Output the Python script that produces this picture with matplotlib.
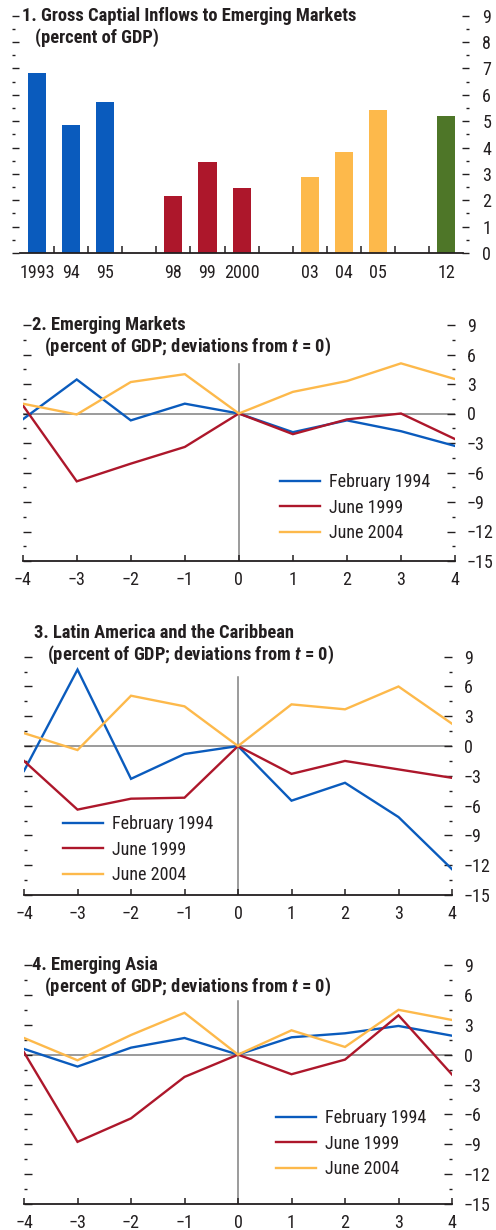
import matplotlib
matplotlib.use('Agg')
import matplotlib.pyplot as plt
from matplotlib.lines import Line2D
from matplotlib.ticker import MultipleLocator, FixedLocator

plt.rcParams['font.family'] = ['Roboto Condensed', 'DejaVu Sans']
plt.rcParams['mathtext.fontset'] = 'custom'
plt.rcParams['mathtext.it'] = 'Roboto Condensed:italic:bold'
plt.rcParams['axes.unicode_minus'] = True

W, H = 496, 1230

BLUE = '#0a5bbd'
RED = '#ad172b'
YELLOW = '#fdb94b'
GREEN = '#4e7628'
GRAY = '#808080'
INK = '#231f20'

# panel 1: gross capital inflows, grouped by episode
bar_groups = [['1993', '94', '95'], ['98', '99', '2000'], ['03', '04', '05'], ['12']]
bar_values = [[6.83, 4.86, 5.73], [2.17, 3.46, 2.47], [2.89, 3.84, 5.43], [5.20]]
bar_colors = [BLUE, RED, YELLOW, GREEN]

# panels 2-4: deviations from t = 0
horizon = [-4, -3, -2, -1, 0, 1, 2, 3, 4]
series_names = ['February 1994', 'June 1999', 'June 2004']
series_colors = [BLUE, RED, YELLOW]

em_feb94 = [-0.6, 3.46, -0.7, 1.0, 0, -1.9, -0.7, -1.8, -3.3]
em_jun99 = [0.85, -6.9, -5.1, -3.4, 0, -2.1, -0.6, 0.0, -2.6]
em_jun04 = [1.0, -0.1, 3.2, 4.0, 0, 2.2, 3.3, 5.1, 3.5]

la_feb94 = [-2.5, 7.7, -3.3, -0.8, 0, -5.5, -3.7, -7.15, -12.4]
la_jun99 = [-1.5, -6.4, -5.3, -5.2, 0, -2.8, -1.5, -2.35, -3.2]
la_jun04 = [1.3, -0.4, 5.07, 4.0, 0, 4.2, 3.7, 6.0, 2.25]

as_feb94 = [0.57, -1.2, 0.7, 1.67, 0, 1.74, 2.14, 2.88, 1.9]
as_jun99 = [0.23, -8.76, -6.4, -2.24, 0, -1.97, -0.5, 3.95, -2.0]
as_jun04 = [1.67, -0.57, 1.97, 4.2, 0, 2.44, 0.77, 4.5, 3.48]


def box(l, r, t, b):
    return [l / W, 1 - b / H, (r - l) / W, (b - t) / H]


def fx(x):
    return x / W


def fy(y):
    return 1 - y / H


fig = plt.figure(figsize=(W / 100, H / 100), dpi=100)

TICK_FS = 13
TITLE_FS = 13.3

# ---- panel 1 ----
ax1 = fig.add_axes(box(12, 469, 15.7, 253))
pos, labels = [], []
slot = 0
for names, vals, col in zip(bar_groups, bar_values, bar_colors):
    xs = list(range(slot, slot + len(names)))
    ax1.bar(xs, vals, width=0.53, color=col, zorder=2)
    pos += xs
    labels += names
    slot += len(names) + 1

ax1.set_xlim(-0.733, 12.67)
ax1.set_ylim(0, 9)
for s in ['top', 'left', 'right']:
    ax1.spines[s].set_visible(False)
ax1.spines['bottom'].set_bounds(-0.5, 12.5)
ax1.spines['bottom'].set_color(INK)
ax1.spines['bottom'].set_linewidth(1.3)
ax1.set_xticks(pos)
ax1.set_xticklabels(labels)
ax1.xaxis.set_minor_locator(FixedLocator([p + 0.5 for p in range(12)]))
ax1.tick_params(axis='x', which='major', length=0, pad=8, labelsize=TICK_FS, labelcolor=INK)
ax1.tick_params(axis='x', which='minor', direction='in', length=5, width=1.1, color=INK)
ax1.yaxis.set_major_locator(MultipleLocator(1))
ax1.yaxis.set_minor_locator(MultipleLocator(0.5))
ax1.yaxis.set_ticks_position('both')
ax1.tick_params(axis='y', which='both', direction='in', left=True, right=True,
                labelleft=False, labelright=True, color=INK, width=1)
ax1.tick_params(axis='y', which='major', length=5, pad=9.5, labelsize=TICK_FS, labelcolor=INK)
ax1.tick_params(axis='y', which='minor', length=2.2)

fig.text(fx(22), fy(16), '1. Gross Captial Inflows to Emerging Markets', fontsize=TITLE_FS,
         fontweight='bold', color=INK, ha='left', va='center')
fig.text(fx(35), fy(38), '(percent of GDP)', fontsize=TITLE_FS,
         fontweight='bold', color=INK, ha='left', va='center')

# ---- line panels ----
panels = [
    dict(rect=box(22.7, 455, 325, 561), title='2. Emerging Markets', t1=(32, 325), t2=(44, 347),
         data=[em_feb94, em_jun99, em_jun04], vtop=5.0, leg=(280, 473)),
    dict(rect=box(24, 452, 656.7, 895), title='3. Latin America and the Caribbean', t1=(34, 633),
         t2=(47, 655), data=[la_feb94, la_jun99, la_jun04], vtop=7.0, leg=(63, 815)),
    dict(rect=box(24, 452, 965, 1204), title='4. Emerging Asia', t1=(32, 965), t2=(44, 987),
         data=[as_feb94, as_jun99, as_jun04], vtop=5.4, leg=(276, 1109)),
]

for p in panels:
    ax = fig.add_axes(p['rect'])
    ax.set_xlim(-4, 4)
    ax.set_ylim(-15, 9)
    ax.axhline(0, color=GRAY, lw=1.1, zorder=1)
    ax.plot([0, 0], [-15, p['vtop']], color=GRAY, lw=1.1, zorder=1)
    handles = []
    for vals, name, col in zip(p['data'], series_names, series_colors):
        ax.plot(horizon, vals, color=col, lw=1.7, zorder=3, solid_joinstyle='miter')
        handles.append(Line2D([], [], color=col, lw=1.7, label=name))
    for s in ['top', 'left', 'right']:
        ax.spines[s].set_visible(False)
    ax.spines['bottom'].set_color(INK)
    ax.spines['bottom'].set_linewidth(1.3)
    ax.set_xticks(horizon)
    ax.tick_params(axis='x', direction='in', length=4.5, width=1.1, color=INK, pad=7,
                   labelsize=TICK_FS, labelcolor=INK)
    ax.yaxis.set_major_locator(MultipleLocator(3))
    ax.yaxis.set_minor_locator(MultipleLocator(1.5))
    ax.yaxis.set_ticks_position('both')
    ax.tick_params(axis='y', which='both', direction='in', left=True, right=True,
                   labelleft=False, labelright=True, color=INK, width=1)
    ax.tick_params(axis='y', which='major', length=5.8, pad=8.5, labelsize=TICK_FS, labelcolor=INK)
    ax.tick_params(axis='y', which='minor', length=2.4)

    fig.text(fx(p['t1'][0]), fy(p['t1'][1]), p['title'], fontsize=TITLE_FS, fontweight='bold',
             color=INK, ha='left', va='center')
    fig.text(fx(p['t2'][0]), fy(p['t2'][1]), r'(percent of GDP; deviations from $t$ = 0)',
             fontsize=TITLE_FS, fontweight='bold', color=INK, ha='left', va='center')

    ax.legend(handles=handles, loc='upper left', bbox_to_anchor=(fx(p['leg'][0]), fy(p['leg'][1])),
              bbox_transform=fig.transFigure, frameon=False, fontsize=TICK_FS,
              handlelength=2.2, handletextpad=0.5, labelspacing=0.42, borderpad=0,
              borderaxespad=0, labelcolor=INK)

fig.savefig('out.png', dpi=100)
